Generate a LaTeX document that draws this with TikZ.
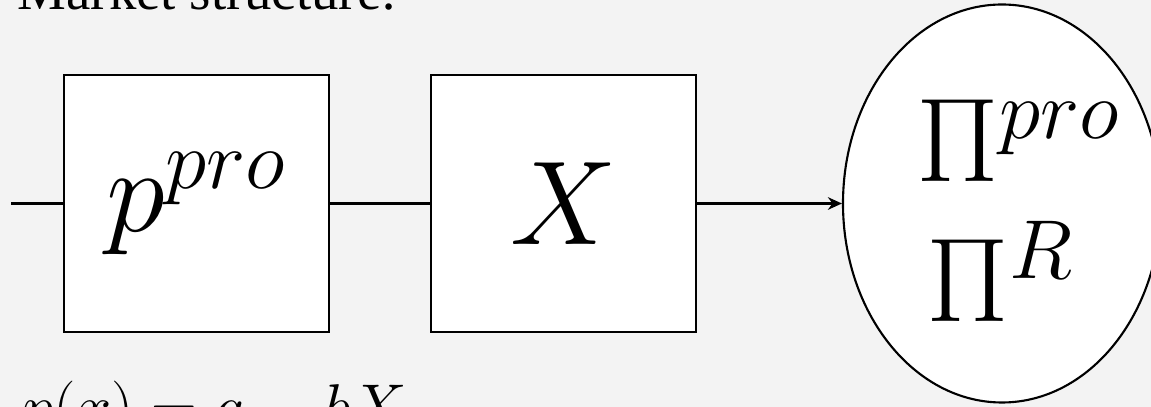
\RequirePackage{fix-cm}
\documentclass[tikz,border=0pt]{standalone}
\usepackage{fontspec}
\newfontfamily\slidefont{Liberation Serif}
\usetikzlibrary{shapes.geometric,arrows.meta,positioning}
\definecolor{slidebg}{HTML}{F3F3F3}
\begin{document}
\begin{tikzpicture}[
	blk/.style={rectangle, draw=black, line width=0.75pt, fill=white, minimum width=2.65cm, minimum height=2.57cm, inner sep=0pt, font=\fontsize{34}{40}\selectfont},
	oval/.style={ellipse, draw=black, line width=0.6pt, fill=white, minimum width=3.18cm, minimum height=3.98cm, inner sep=0pt},
	big/.style={inner sep=0pt, font=\fontsize{34}{40}\selectfont},
	wire/.style={line width=0.6pt}]
	\useasboundingbox (0,0) rectangle (11.51,4.07);
	\fill[slidebg] (0,0) rectangle (11.51,4.07);
	%---------------- title ----------------
	\node[anchor=base west, inner sep=0pt, font=\slidefont\fontsize{15.6}{18}\selectfont] (title) at (0.17,3.97) {Market structure:};
	%---------------- blocks ----------------
	\node[blk] (pbox) at (1.965,2.035) {$p^{pro}$};
	\node[blk] (xbox) at (5.635,2.035) {$X$};
	\node[oval] (prof) at (10.02,2.035) {};
	\node[big, anchor=base west] (pipro) at (9.16,2.25) {$\Pi^{pro}$};
	\node[big, anchor=base] (pir) at (10.0,0.85) {$\Pi^{R}$};
	%---------------- wires ----------------
	\coordinate (feed) at (0.11,2.035);
	\draw[wire] (feed) -- (pbox.west);
	\draw[wire] (pbox.east) -- (xbox.west);
	\draw[wire, -{Stealth[length=4pt, width=3.6pt]}] (xbox.east) -- (prof.west);
	%---------------- demand ----------------
	\node[anchor=base west, inner sep=0pt, font=\fontsize{18}{21}\selectfont] (demand) at (0.22,-0.22) {$p(x)=a-bX$};
\end{tikzpicture}
\end{document}
